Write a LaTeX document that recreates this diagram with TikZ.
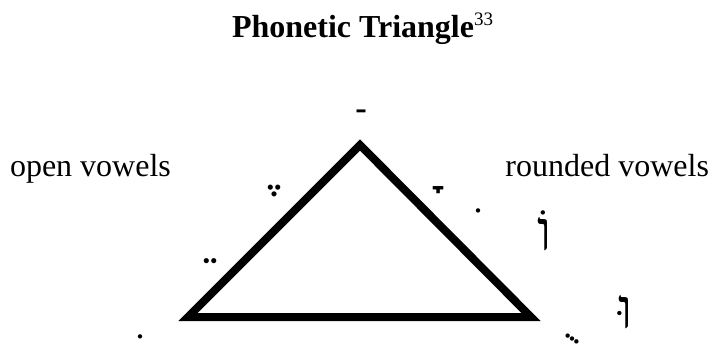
\documentclass[tikz,border=0pt]{standalone}
\usepackage{fontspec}
\setmainfont{Liberation Serif}
\newfontfamily\hebfont[Script=Hebrew]{Liberation Serif}
\begin{document}
\begin{tikzpicture}[x=1pt,y=-1pt,
  lbl/.style={inner sep=0pt,outer sep=0pt,font=\fontsize{32}{38}\selectfont},
  heb/.style={inner sep=0pt,outer sep=0pt,anchor=base,font=\hebfont\fontsize{56}{60}\selectfont},
  hebbig/.style={heb,font=\hebfont\fontsize{66}{70}\selectfont},
  tri/.style={line width=8pt,miter limit=10,line join=miter}]
\useasboundingbox (0,0) rectangle (720,347);
\node[lbl,anchor=base west,font=\fontsize{32}{38}\selectfont\bfseries] (title) at (232,38)
  {Phonetic Triangle\raisebox{12pt}{\fontsize{19}{20}\selectfont\mdseries 33}};
\node[lbl,anchor=base west] (open) at (10,177) {open vowels};
\node[lbl,anchor=base east] (round) at (709,177) {rounded vowels};
\coordinate (A) at (360,145);
\coordinate (L) at (188,317);
\coordinate (R) at (531,317);
\draw[tri] (A) -- (L) -- (R) -- cycle;
\node[heb] (patah) at (368,107) {^^^^00a0^^^^05b7};
\node[hebbig] (segol) at (283,185) {^^^^00a0^^^^05b6};
\node[hebbig] (qamets) at (447,183) {^^^^00a0^^^^05b8};
\node[heb] (holam) at (485,249) {^^^^00a0^^^^05b9};
\node[heb] (vavholam) at (545,251) {^^^^05d5^^^^05b9};
\node[hebbig] (tsere) at (219,253) {^^^^00a0^^^^05b5};
\node[heb] (hiriq) at (147,330) {^^^^00a0^^^^05b4};
\node[heb] (qubuts) at (579,334) {^^^^00a0^^^^05bb};
\node[heb] (shuruq) at (626,328) {^^^^05d5^^^^05bc};
\end{tikzpicture}
\end{document}
